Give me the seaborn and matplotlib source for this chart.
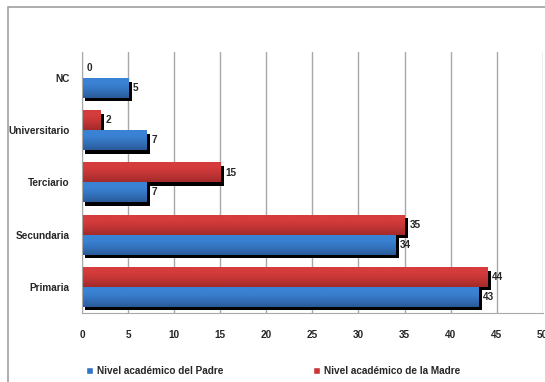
import numpy as np
import pandas as pd
import seaborn as sns
import matplotlib.pyplot as plt
import matplotlib.patheffects as pe
from matplotlib.colors import to_rgb
from matplotlib.patches import Rectangle

niveles = ['NC', 'Universitario', 'Terciario', 'Secundaria', 'Primaria']
padre = [5, 7, 7, 34, 43]
madre = [0, 2, 15, 35, 44]
lbl_padre = 'Nivel académico del Padre'
lbl_madre = 'Nivel académico de la Madre'

df = pd.DataFrame({
    'nivel': niveles * 2,
    'valor': madre + padre,
    'serie': [lbl_madre] * 5 + [lbl_padre] * 5,
})

# degradado (arriba, abajo) de cada serie
degradado = {lbl_madre: ('#d53c3c', '#a42a2a'), lbl_padre: ('#3a82d4', '#2a5b9a')}

sns.set_style('white')
plt.rcParams['font.family'] = ['Liberation Sans', 'DejaVu Sans']

fig = plt.figure(figsize=(5.45, 3.82), dpi=100)
ax = fig.add_axes([82 / 545, 1 - 313 / 382, (542.8 - 82) / 545, (313 - 52) / 382])

# borde exterior del grafico
fig.patches.append(Rectangle((8 / 545, -0.1), 1.2, 1 - 7 / 382 + 0.1, transform=fig.transFigure,
                             fill=False, edgecolor='#a0a0a0', linewidth=1.2))

sns.barplot(data=df, x='valor', y='nivel', hue='serie', order=niveles,
            hue_order=[lbl_madre, lbl_padre],
            palette={lbl_madre: '#cc3535', lbl_padre: '#3374c8'}, saturation=1,
            width=0.76, orient='h', ax=ax, legend=True)

h, l = ax.get_legend_handles_labels()
ax.get_legend().remove()

ax.set_xlim(0, 50)
ylim = ax.get_ylim()

sombra = [pe.SimplePatchShadow(offset=(2.5, -2.5), shadow_rgbFace='black', alpha=1), pe.Normal()]
t = np.linspace(0, 1, 40)
curva = np.clip((t - 0.25) / 0.75, 0, 1) ** 1.2
for cont, serie in zip(ax.containers, [lbl_madre, lbl_padre]):
    c0, c1 = np.array(to_rgb(degradado[serie][0])), np.array(to_rgb(degradado[serie][1]))
    grad = (c0[None, :] * (1 - curva[:, None]) + c1[None, :] * curva[:, None])[:, None, :]
    for p in cont:
        p.set_path_effects(sombra)
        p.set_edgecolor('none')
        x0, y0 = p.get_x(), p.get_y()
        w, hh = p.get_width(), p.get_height()
        if w > 0:
            ax.imshow(grad, extent=(x0, x0 + w, y0 + hh, y0), origin='upper',
                      aspect='auto', interpolation='bilinear', zorder=p.get_zorder() + 0.1)
    ax.bar_label(cont, fmt='%d', padding=3.5, fontsize=7.2, fontweight='bold')

ax.set_xlim(0, 50)
ax.set_ylim(ylim)
ax.set_xticks(range(0, 51, 5))
ax.grid(axis='x', color='#a8a8a8', linewidth=1)
ax.set_axisbelow(True)
for s in ['top', 'right']:
    ax.spines[s].set_visible(False)
for s in ['left', 'bottom']:
    ax.spines[s].set_color('#a8a8a8')
ax.tick_params(axis='x', length=4, color='#a8a8a8', pad=8, labelsize=7.2)
ax.tick_params(axis='y', length=0, pad=9, labelsize=7.2)
for tl in ax.get_xticklabels() + ax.get_yticklabels():
    tl.set_fontweight('bold')
ax.set_xlabel('')
ax.set_ylabel('')

leg = fig.legend(h[::-1], l[::-1], loc='center left', bbox_to_anchor=(0.141, 0.03), ncol=2,
                 frameon=False, handlelength=0.7, handleheight=0.7,
                 handletextpad=0.4, columnspacing=9,
                 prop={'size': 7.2, 'weight': 'bold'})
for hd in leg.legend_handles:
    hd.set_path_effects([])

fig.savefig('out.png', dpi=100)
